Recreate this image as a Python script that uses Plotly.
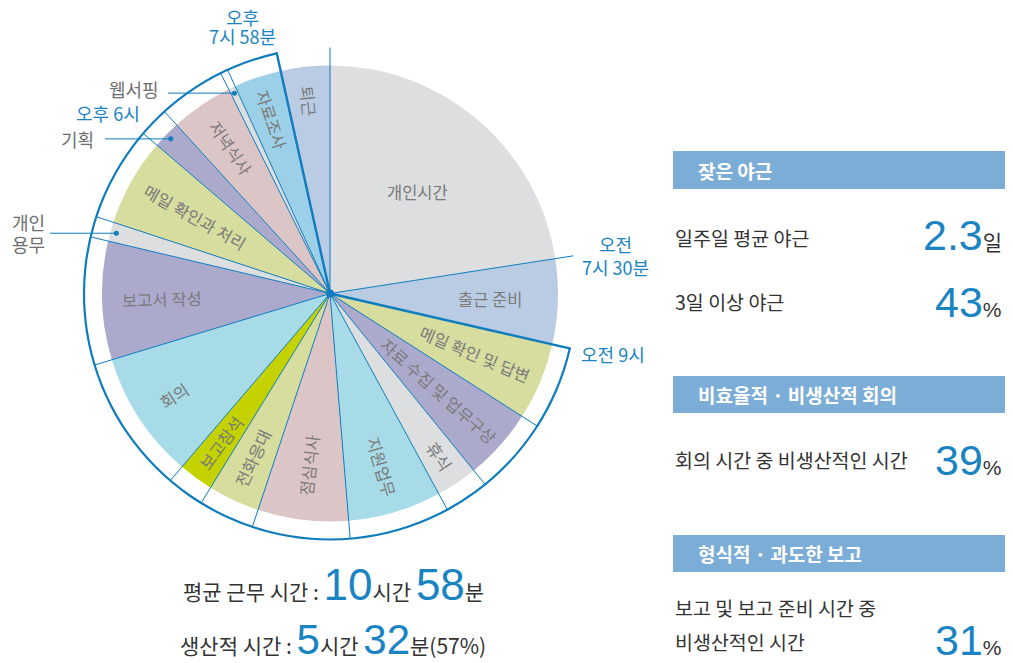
import math
import plotly.graph_objects as go

# browser window 1013x663; the page body has an 8px margin, so the figure is drawn 8px in
OFF = 8
W, H = 1013 - OFF, 663 - OFF

# ---------------- data ----------------
categories = ["개인시간", "출근 준비", "메일 확인 및 답변", "자료 수집 및 업무구상", "휴식",
              "지원업무", "점심식사", "전화응대", "보고참석", "회의", "보고서 작성",
              "개인 용무", "메일 확인과 처리", "기획", "저녁식사", "웹서핑", "자료조사", "퇴근"]
shares = [81.2, 21.7, 19.7, 18.3, 10.6, 23.8, 23.1, 13.2, 8.9, 32.6, 30.2,
          4.9, 22.4, 7.1, 15.9, 1.8, 12.1, 12.5]
work_first = "메일 확인 및 답변"   # first slice of the working day (오전 9시)
work_last = "자료조사"             # last slice of the working day (오후 7시 58분)

time_marks = ["오전<br>7시 30분", "오전 9시", "오후 6시", "오후<br>7시 58분"]

stat_headers = ["잦은 야근", "비효율적 · 비생산적 회의", "형식적 · 과도한 보고"]
stat_rows = ["일주일 평균 야근", "3일 이상 야근", "회의 시간 중 비생산적인 시간",
             "보고 및 보고 준비 시간 중", "비생산적인 시간"]
stat_values = ["2.3", "43", "39", "31"]
stat_units = ["일", "%", "%", "%"]

work_hours, work_minutes = 10, 58
prod_hours, prod_minutes, prod_pct = 5, 32, 57

# ---------------- styles ----------------
colors = ["#dcdee0", "#b9cce4", "#d7dc9f", "#abaacd", "#dcdee0", "#a6dbe7",
          "#dcc5c7", "#d7dc9f", "#c4d300", "#a6dbe7", "#abaacd", "#dcdee0",
          "#d7dc9f", "#abaacd", "#dcc5c7", "#dcdee0", "#9ccfe8", "#b9cce4"]
BLUE = "#0f7cbd"
TXT_BLUE = "#1a84c3"
GRAY_LBL = "#7a7a7a"
DARK = "#333333"
KFONT = "Noto Sans CJK KR"
NFONT = "Liberation Sans"

cx, cy = 330.0, 293.5      # pixel centre of pie (window pixels)
R = 270.0                  # pixel radius of polar domain (radial units == pixels)
PIE_R = 228
RING_R = 246

# label placement (radius, orientation) for the slices labelled inside
inner_labels = {
    "개인시간": (134, "h"), "출근 준비": (160, "h"), "메일 확인 및 답변": (157, "r"),
    "자료 수집 및 업무구상": (146, "r"), "휴식": (196, "r"), "지원업무": (181, "r"),
    "점심식사": (173, "r"), "전화응대": (182, "r"), "보고참석": (185, "r"),
    "회의": (187, "r"), "보고서 작성": (168, "r"), "메일 확인과 처리": (155, "r"),
    "저녁식사": (176, "r"), "자료조사": (183, "r"), "퇴근": (194, "r"),
}
# (x, centre y, line spacing, anchor)
outer_labels = {"웹서핑": (161, 89, 0, "right"), "기획": (96, 139, 0, "right"),
                "개인<br>용무": (28, 233, 22, "center")}
outer_leader = {"웹서핑": ("웹서핑", 168), "기획": ("기획", 105), "개인<br>용무": ("개인 용무", 50)}
time_pos = [(615, 255.5, 23, "center"), (647, 354, 0, "right"),
            (142, 113, 0, "right"), (242, 26, 19, "center")]

# ---------------- geometry from data ----------------
total = sum(shares)
deg = [s / total * 360.0 for s in shares]
starts, mids = [], []
acc = 0.0
for d in deg:
    starts.append(acc)
    mids.append(acc + d / 2)
    acc += d
i_first = categories.index(work_first)
i_last = categories.index(work_last)
work_start = starts[i_first]
work_end = starts[i_last] + deg[i_last]


def to_px(theta, r):
    a = math.radians(theta)
    return cx + r * math.sin(a), cy - r * math.cos(a)


def to_paper(px, py):
    return (px - OFF) / W, 1 - (py - OFF) / H


fig = go.Figure()

# slices
fig.add_trace(go.Barpolar(
    r=[PIE_R] * len(categories), theta=mids, width=deg,
    marker=dict(color=colors, line=dict(width=0)),
    hoverinfo="skip", showlegend=False))

# outer ring arc (working hours)
fig.add_trace(go.Barpolar(
    r=[2.2], base=[RING_R - 1.1], theta=[(work_start + work_end) / 2],
    width=[work_end - work_start], marker=dict(color=BLUE, line=dict(width=0)),
    hoverinfo="skip", showlegend=False))

# thin radial separators
rr, tt = [], []
for i, s in enumerate(starts):
    if i == i_first or abs(s - work_end) < 1e-6:
        continue
    rr += [0, RING_R, None]
    tt += [s, s, None]
fig.add_trace(go.Scatterpolar(r=rr, theta=tt, mode="lines",
                              line=dict(color=BLUE, width=1),
                              hoverinfo="skip", showlegend=False))
# thick separators at start/end of working day
fig.add_trace(go.Scatterpolar(r=[0, RING_R + 1, None, 0, RING_R + 1],
                              theta=[work_start, work_start, None, work_end, work_end],
                              mode="lines", line=dict(color=BLUE, width=2.4),
                              hoverinfo="skip", showlegend=False))
# centre dot
fig.add_trace(go.Scatterpolar(r=[0], theta=[0], mode="markers",
                              marker=dict(color=BLUE, size=8),
                              hoverinfo="skip", showlegend=False))
# leader dots
ldr_idx = [categories.index(v[0]) for v in outer_leader.values()]
fig.add_trace(go.Scatterpolar(r=[222] * len(ldr_idx), theta=[mids[i] for i in ldr_idx],
                              mode="markers", marker=dict(color=BLUE, size=5),
                              hoverinfo="skip", showlegend=False))

shapes, ann = [], []


def add_lines(text, px, py, sp, xa, size, color):
    parts = text.split("<br>")
    n = len(parts)
    for j, p in enumerate(parts):
        yy = py + (j - (n - 1) / 2) * sp
        x, y = to_paper(px, yy)
        ann.append(dict(x=x, y=y, xref="paper", yref="paper", text=p, showarrow=False,
                        xanchor=xa, yanchor="middle",
                        font=dict(family=KFONT, size=size, color=color)))


# leader lines
for k, (cat, lx) in outer_leader.items():
    i = categories.index(cat)
    px, py = to_px(mids[i], 222)
    x0, y0 = to_paper(lx, py)
    x1, y1 = to_paper(px, py)
    shapes.append(dict(type="line", xref="paper", yref="paper", x0=x0, y0=y0, x1=x1, y1=y1,
                       line=dict(color=BLUE, width=1)))

# inner labels
for k, (r, mode) in inner_labels.items():
    i = categories.index(k)
    a = mids[i]
    px, py = to_px(a, r)
    x, y = to_paper(px, py)
    if mode == "h":
        ang = 0
    else:
        ang = a - 90 if a < 180 else a - 270
    ann.append(dict(x=x, y=y, xref="paper", yref="paper", text=k, showarrow=False,
                    textangle=ang, xanchor="center", yanchor="middle",
                    font=dict(family=KFONT, size=16.5, color=GRAY_LBL)))

# outer gray labels
for k, (px, py, sp, xa) in outer_labels.items():
    add_lines(k, px, py, sp, xa, 18, "#6e6e6e")

# time marks (blue)
for t, (px, py, sp, xa) in zip(time_marks, time_pos):
    add_lines(t, px, py, sp, xa, 18, TXT_BLUE)

# bottom summary
big = '<span style="font-family:%s;font-size:%dpx;color:%s">%s</span>'
line1 = ("평균 근무 시간 : " + big % (NFONT, 44, TXT_BLUE, work_hours) + "시간 "
         + big % (NFONT, 44, TXT_BLUE, work_minutes) + "분")
line2 = ("생산적 시간 : " + big % (NFONT, 42, TXT_BLUE, prod_hours) + "시간 "
         + big % (NFONT, 42, TXT_BLUE, prod_minutes) + "분(%d%%)" % prod_pct)
for txt, py in [(line1, 584), (line2, 639)]:
    x, y = to_paper(333, py)
    ann.append(dict(x=x, y=y, xref="paper", yref="paper", text=txt, showarrow=False,
                    xanchor="center", yanchor="middle",
                    font=dict(family=KFONT, size=21, color=DARK)))

# right panel
hdr_y = [(151, 189), (376, 413), (535, 572)]
for t, (y0p, y1p) in zip(stat_headers, hdr_y):
    _, y0 = to_paper(0, y1p)
    _, y1 = to_paper(0, y0p)
    x0, _ = to_paper(673, 0)
    x1, _ = to_paper(1005, 0)
    shapes.append(dict(type="rect", xref="paper", yref="paper", x0=x0, x1=x1,
                       y0=y0, y1=y1, fillcolor="#7badd6", line=dict(width=0), layer="below"))
    x, y = to_paper(696, (y0p + y1p) / 2)
    ann.append(dict(x=x, y=y, xref="paper", yref="paper", text="<b>%s</b>" % t,
                    showarrow=False, xanchor="left", yanchor="middle",
                    font=dict(family=KFONT, size=19, color="white")))

row_y = [237, 301, 460, 607, 641]
for t, ry in zip(stat_rows, row_y):
    x, y = to_paper(673, ry)
    ann.append(dict(x=x, y=y, xref="paper", yref="paper", text=t, showarrow=False,
                    xanchor="left", yanchor="middle", align="left",
                    font=dict(family=KFONT, size=19.5, color=DARK)))

val_y = [235, 302, 460, 640]
for v, u, vy in zip(stat_values, stat_units, val_y):
    x, y = to_paper(1004, vy)
    ufont = KFONT if u == "일" else NFONT
    ann.append(dict(x=x, y=y, xref="paper", yref="paper",
                    text=big % (NFONT, 43, TXT_BLUE, v)
                    + '<span style="font-family:%s;font-size:21px">%s</span>' % (ufont, u),
                    showarrow=False, xanchor="right", yanchor="middle",
                    font=dict(family=KFONT, size=21, color=DARK)))

fig.update_layout(
    width=W, height=H, margin=dict(l=0, r=0, t=0, b=0),
    paper_bgcolor="white", plot_bgcolor="white",
    showlegend=False,
    polar=dict(
        domain=dict(x=[(cx - OFF - R) / W, (cx - OFF + R) / W],
                    y=[1 - (cy - OFF + R) / H, 1 - (cy - OFF - R) / H]),
        bgcolor="rgba(0,0,0,0)", barmode="overlay",
        radialaxis=dict(range=[0, R], visible=False),
        angularaxis=dict(rotation=90, direction="clockwise", visible=False),
    ),
    shapes=shapes, annotations=ann,
)

fig.write_html("out.html")
